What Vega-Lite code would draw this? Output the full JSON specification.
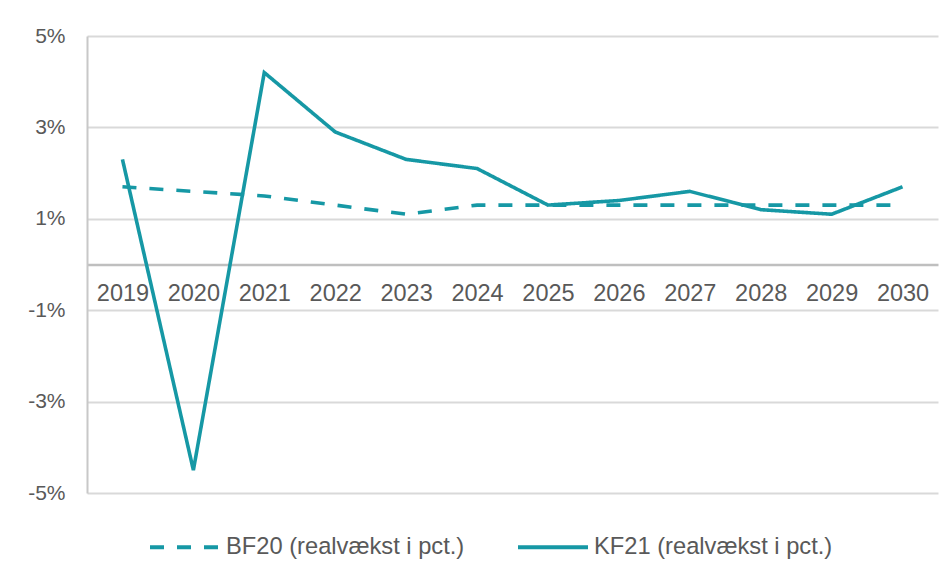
{
  "$schema": "https://vega.github.io/schema/vega-lite/v6.json",
  "width": 851,
  "height": 457,
  "autosize": {"type": "none"},
  "padding": {"left": 87, "top": 36, "right": 14, "bottom": 81},
  "background": "white",
  "config": {
    "view": {"stroke": null},
    "font": "Liberation Sans"
  },
  "data": {
    "values": [
      {"year": "2019", "series": "BF20 (realvækst i pct.)", "value": 1.7},
      {"year": "2020", "series": "BF20 (realvækst i pct.)", "value": 1.6},
      {"year": "2021", "series": "BF20 (realvækst i pct.)", "value": 1.5},
      {"year": "2022", "series": "BF20 (realvækst i pct.)", "value": 1.3},
      {"year": "2023", "series": "BF20 (realvækst i pct.)", "value": 1.1},
      {"year": "2024", "series": "BF20 (realvækst i pct.)", "value": 1.3},
      {"year": "2025", "series": "BF20 (realvækst i pct.)", "value": 1.3},
      {"year": "2026", "series": "BF20 (realvækst i pct.)", "value": 1.3},
      {"year": "2027", "series": "BF20 (realvækst i pct.)", "value": 1.3},
      {"year": "2028", "series": "BF20 (realvækst i pct.)", "value": 1.3},
      {"year": "2029", "series": "BF20 (realvækst i pct.)", "value": 1.3},
      {"year": "2030", "series": "BF20 (realvækst i pct.)", "value": 1.3},
      {"year": "2019", "series": "KF21 (realvækst i pct.)", "value": 2.3},
      {"year": "2020", "series": "KF21 (realvækst i pct.)", "value": -4.5},
      {"year": "2021", "series": "KF21 (realvækst i pct.)", "value": 4.2},
      {"year": "2022", "series": "KF21 (realvækst i pct.)", "value": 2.9},
      {"year": "2023", "series": "KF21 (realvækst i pct.)", "value": 2.3},
      {"year": "2024", "series": "KF21 (realvækst i pct.)", "value": 2.1},
      {"year": "2025", "series": "KF21 (realvækst i pct.)", "value": 1.3},
      {"year": "2026", "series": "KF21 (realvækst i pct.)", "value": 1.4},
      {"year": "2027", "series": "KF21 (realvækst i pct.)", "value": 1.6},
      {"year": "2028", "series": "KF21 (realvækst i pct.)", "value": 1.2},
      {"year": "2029", "series": "KF21 (realvækst i pct.)", "value": 1.1},
      {"year": "2030", "series": "KF21 (realvækst i pct.)", "value": 1.7}
    ]
  },
  "mark": {"type": "line", "strokeWidth": 3.6, "color": "#1698a5"},
  "encoding": {
    "x": {
      "field": "year",
      "type": "ordinal",
      "scale": {"type": "point", "padding": 0.5},
      "axis": {
        "title": null,
        "orient": "bottom",
        "offset": -228.5,
        "labelAngle": 0,
        "labelFontSize": 23.5,
        "labelColor": "#595959",
        "labelPadding": 17,
        "ticks": false,
        "grid": false,
        "domainColor": "#bfbfbf",
        "domainWidth": 2.5
      }
    },
    "y": {
      "field": "value",
      "type": "quantitative",
      "scale": {"domain": [-5, 5], "nice": false, "zero": false},
      "axis": {
        "title": null,
        "values": [-5, -3, -1, 1, 3, 5],
        "labelExpr": "datum.value + '%'",
        "labelFontSize": 21,
        "labelColor": "#595959",
        "labelPadding": 22,
        "ticks": false,
        "grid": true,
        "gridColor": "#d9d9d9",
        "gridWidth": 2,
        "domainColor": "#c8c8c8",
        "domainWidth": 2
      }
    },
    "strokeDash": {
      "field": "series",
      "type": "nominal",
      "scale": {"range": [[14, 13], [1, 0]]},
      "legend": {
        "title": null,
        "orient": "none",
        "legendX": 61,
        "legendY": 474,
        "direction": "horizontal",
        "symbolType": "stroke",
        "symbolSize": 4900,
        "symbolStrokeWidth": 4,
        "symbolStrokeColor": "#1698a5",
        "labelFontSize": 23.7,
        "labelColor": "#595959",
        "labelOffset": 4,
        "columnPadding": 45,
        "labelLimit": 400
      }
    }
  }
}
